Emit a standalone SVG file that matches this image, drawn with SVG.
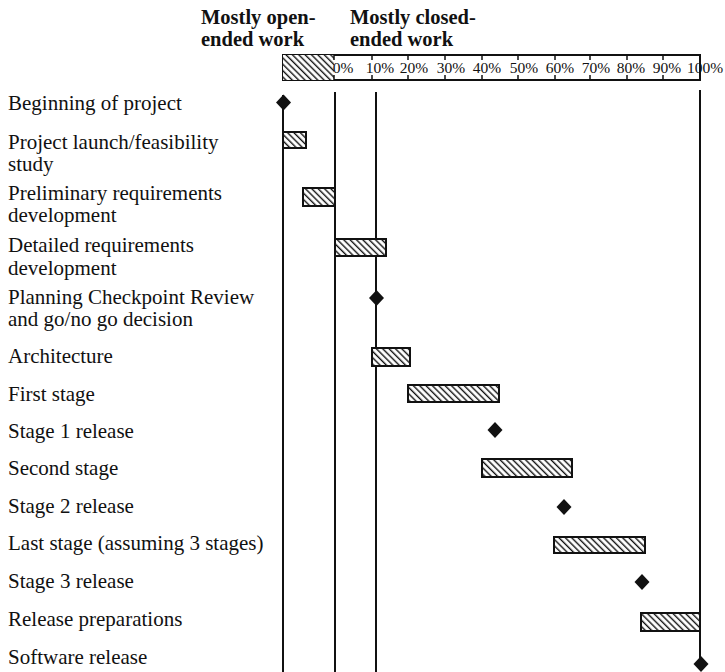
<svg xmlns="http://www.w3.org/2000/svg" width="725" height="672" viewBox="0 0 725 672">
<style>
  .lbl { font-family: "Liberation Serif", "Times New Roman", serif; font-size: 21px; fill: #111; }
  .hdr { font-family: "Liberation Serif", "Times New Roman", serif; font-size: 20.5px; font-weight: bold; fill: #111; }
  .pct { font-family: "Liberation Serif", "Times New Roman", serif; font-size: 15.5px; fill: #111; text-anchor: middle; }
  .bar { fill: url(#hatch); stroke: #111; stroke-width: 2; }
  .ms { fill: #111; }
  .grid { stroke: #111; stroke-width: 2; fill: none; }
  .tick { stroke: #111; stroke-width: 1.5; }
</style>
<defs>
  <pattern id="hatch" patternUnits="userSpaceOnUse" width="4.5" height="10" patternTransform="rotate(-45)">
    <rect width="4.5" height="10" fill="#fff"/>
    <line x1="1.5" y1="0" x2="1.5" y2="10" stroke="#111" stroke-width="1.4"/>
  </pattern>
  <path id="dia" d="M0,-8 L7.5,0 L0,8 L-7.5,0 Z"/>
</defs>
<rect width="725" height="672" fill="#fff"/>

<g id="header">
  <text class="hdr" x="201" y="24">Mostly open-</text>
  <text class="hdr" x="201" y="46">ended work</text>
  <text class="hdr" x="350" y="24">Mostly closed-</text>
  <text class="hdr" x="350" y="46">ended work</text>
</g>

<g id="scale">
  <rect x="283" y="55" width="417" height="25" fill="#fff" stroke="#111" stroke-width="2"/>
  <rect x="283" y="55" width="51" height="25" fill="url(#hatch)" stroke="none"/>
  <g class="tick">
    <line x1="334" y1="55" x2="334" y2="60"/><line x1="334" y1="75" x2="334" y2="80"/>
    <line x1="372" y1="55" x2="372" y2="60"/><line x1="372" y1="75" x2="372" y2="80"/>
    <line x1="408" y1="55" x2="408" y2="60"/><line x1="408" y1="75" x2="408" y2="80"/>
    <line x1="445" y1="55" x2="445" y2="60"/><line x1="445" y1="75" x2="445" y2="80"/>
    <line x1="482" y1="55" x2="482" y2="60"/><line x1="482" y1="75" x2="482" y2="80"/>
    <line x1="518" y1="55" x2="518" y2="60"/><line x1="518" y1="75" x2="518" y2="80"/>
    <line x1="555" y1="55" x2="555" y2="60"/><line x1="555" y1="75" x2="555" y2="80"/>
    <line x1="590" y1="55" x2="590" y2="60"/><line x1="590" y1="75" x2="590" y2="80"/>
    <line x1="627" y1="55" x2="627" y2="60"/><line x1="627" y1="75" x2="627" y2="80"/>
    <line x1="663" y1="55" x2="663" y2="60"/><line x1="663" y1="75" x2="663" y2="80"/>
  </g>
  <text class="pct" x="343" y="73">0%</text>
  <text class="pct" x="380" y="73">10%</text>
  <text class="pct" x="414" y="73">20%</text>
  <text class="pct" x="451" y="73">30%</text>
  <text class="pct" x="487" y="73">40%</text>
  <text class="pct" x="524" y="73">50%</text>
  <text class="pct" x="560" y="73">60%</text>
  <text class="pct" x="596" y="73">70%</text>
  <text class="pct" x="631" y="73">80%</text>
  <text class="pct" x="667" y="73">90%</text>
  <text class="pct" x="705" y="73">100%</text>
</g>

<g id="connectors">
  <line class="grid" x1="283" y1="95" x2="283" y2="672"/>
  <line class="grid" x1="335" y1="92" x2="335" y2="672"/>
  <line class="grid" x1="376" y1="92" x2="376" y2="672"/>
  <line class="grid" x1="700" y1="90" x2="700" y2="664"/>
</g>

<g id="beginning">
  <text class="lbl" x="8" y="110">Beginning of project</text>
  <use href="#dia" class="ms" x="283.5" y="102.5"/>
</g>
<g id="launch">
  <text class="lbl" x="8" y="149">Project  launch/feasibility</text>
  <text class="lbl" x="8" y="171">study</text>
  <rect class="bar" x="283" y="132" width="23" height="16"/>
</g>
<g id="prelim">
  <text class="lbl" x="8" y="200">Preliminary requirements</text>
  <text class="lbl" x="8" y="222">development</text>
  <rect class="bar" x="303" y="188" width="32" height="18"/>
</g>
<g id="detailed">
  <text class="lbl" x="8" y="252">Detailed requirements</text>
  <text class="lbl" x="8" y="275">development</text>
  <rect class="bar" x="335" y="239" width="51" height="17"/>
</g>
<g id="checkpoint">
  <text class="lbl" x="8" y="304">Planning Checkpoint Review</text>
  <text class="lbl" x="8" y="326">and go/no go decision</text>
  <use href="#dia" class="ms" x="376.5" y="298"/>
</g>
<g id="architecture">
  <text class="lbl" x="8" y="363">Architecture</text>
  <rect class="bar" x="372" y="348" width="38" height="18"/>
</g>
<g id="first-stage">
  <text class="lbl" x="8" y="401">First stage</text>
  <rect class="bar" x="408" y="385" width="91" height="17"/>
</g>
<g id="stage1-release">
  <text class="lbl" x="8" y="438">Stage 1 release</text>
  <use href="#dia" class="ms" x="495" y="430"/>
</g>
<g id="second-stage">
  <text class="lbl" x="8" y="475">Second stage</text>
  <rect class="bar" x="482" y="459" width="90" height="18"/>
</g>
<g id="stage2-release">
  <text class="lbl" x="8" y="513">Stage 2 release</text>
  <use href="#dia" class="ms" x="564" y="507"/>
</g>
<g id="last-stage">
  <text class="lbl" x="8" y="550">Last stage (assuming 3 stages)</text>
  <rect class="bar" x="554" y="537" width="91" height="16"/>
</g>
<g id="stage3-release">
  <text class="lbl" x="8" y="588">Stage 3 release</text>
  <use href="#dia" class="ms" x="642" y="582"/>
</g>
<g id="release-prep">
  <text class="lbl" x="8" y="626">Release preparations</text>
  <rect class="bar" x="641" y="613" width="59" height="18"/>
</g>
<g id="software-release">
  <text class="lbl" x="8" y="664">Software release</text>
  <use href="#dia" class="ms" x="701" y="664"/>
</g>
</svg>
